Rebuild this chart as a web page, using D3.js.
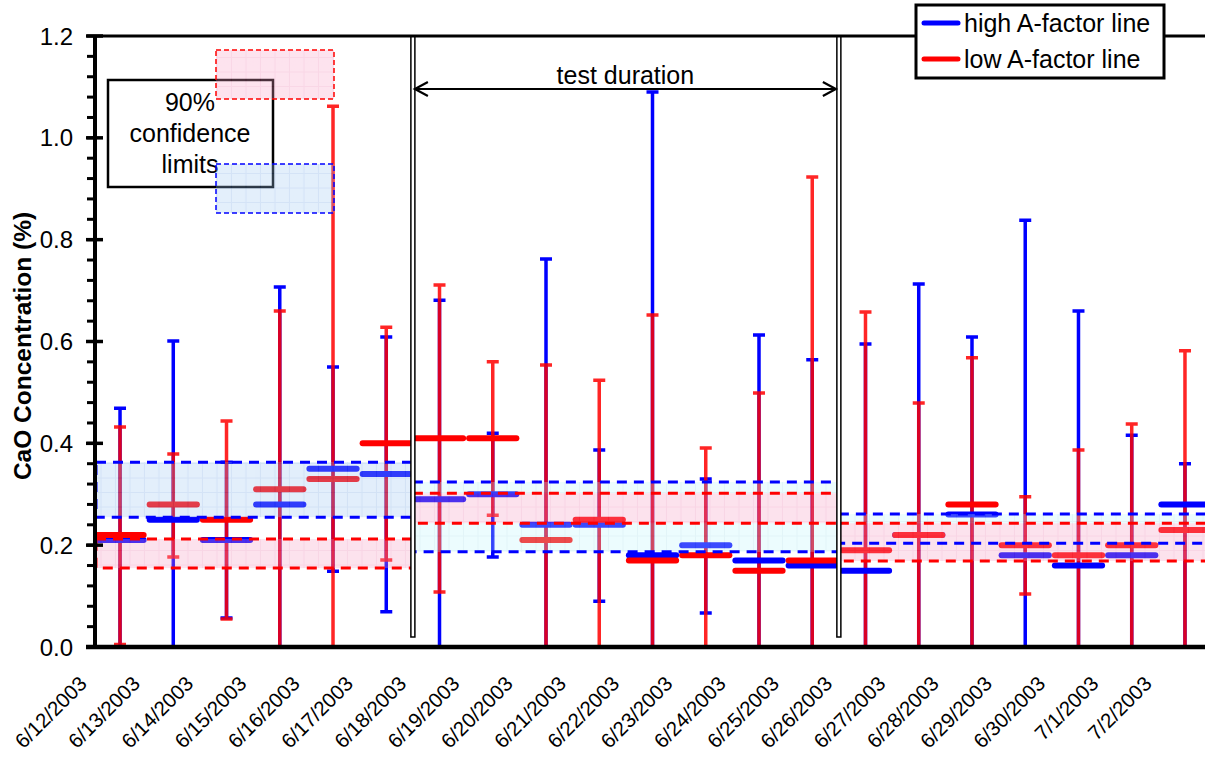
<!DOCTYPE html>
<html>
<head>
<meta charset="utf-8">
<script src="https://cdn.jsdelivr.net/npm/d3@7"></script>
<style>
  body { margin: 0; background: #fff; }
  text { font-family: "Liberation Sans", Arial, sans-serif; fill: #000; }
</style>
</head>
<body>
<svg id="chart" width="1205" height="757"></svg>
<script>
// ---- data ----
var dates = ["6/12/2003","6/13/2003","6/14/2003","6/15/2003","6/16/2003","6/17/2003","6/18/2003",
             "6/19/2003","6/20/2003","6/21/2003","6/22/2003","6/23/2003","6/24/2003","6/25/2003",
             "6/26/2003","6/27/2003","6/28/2003","6/29/2003","6/30/2003","7/1/2003","7/2/2003"];

// high A-factor line: mean and error range
var highMean = [0.21,0.25,0.21,0.28,0.35,0.34,0.29,0.30,0.24,0.24,0.18,0.20,0.17,0.16,0.15,0.22,0.26,0.18,0.16,0.18,0.28];
var highLow  = [0,0,0.057,0,0.149,0.069,0,0.177,0,0.09,0,0.067,0,0,0,0,0,0,0,0,0];
var highHigh = [0.469,0.601,0.363,0.707,0.55,0.609,0.681,0.42,0.762,0.387,1.09,0.33,0.613,0.564,0.595,0.713,0.609,0.838,0.66,0.416,0.36];

// low A-factor line: mean and error range
var lowMean = [0.22,0.28,0.25,0.31,0.33,0.40,0.41,0.41,0.21,0.25,0.17,0.18,0.15,0.17,0.19,0.22,0.28,0.20,0.18,0.20,0.23];
var lowLow  = [0.005,0.177,0.055,0,0,0.171,0.108,0.259,0,0,0,0,0,0,0,0,0,0.104,0,0,0];
var lowHigh = [0.432,0.379,0.444,0.66,1.062,0.628,0.711,0.56,0.554,0.524,0.652,0.391,0.499,0.923,0.658,0.479,0.568,0.295,0.387,0.438,0.582];

// periods (before / during / after test) and their 90% confidence limits
var periodStart = [0, 6, 14];
var periodEnd   = [5, 13, 20];
var highLimits  = [[0.255,0.363],[0.187,0.324],[0.204,0.261]];
var lowLimits   = [[0.155,0.212],[0.243,0.302],[0.169,0.243]];

var yTicks = [0, 0.2, 0.4, 0.6, 0.8, 1.0, 1.2];

var BLUE = "#0000ff", RED = "#ff0000";

var svg = d3.select("#chart");
var width = 1205;

var x = d3.scaleBand().domain(dates).range([93.4, 1211.6]).padding(0);
var y = d3.scaleLinear().domain([0, 1.2]).range([647, 36]);
var bw = x.bandwidth();
function cx(i) { return x(dates[i]) + bw / 2; }

// grid-textured fills for the confidence bands
var defs = svg.append("defs");
function gridPattern(id, fill, line) {
  var p = defs.append("pattern").attr("id", id)
    .attr("width", 14.5).attr("height", 14.5).attr("patternUnits", "userSpaceOnUse");
  p.append("rect").attr("width", 14.5).attr("height", 14.5).attr("fill", fill);
  p.append("path").attr("d", "M14 0V14.5M0 14H14.5").attr("stroke", line).attr("stroke-width", 1);
}
gridPattern("gBlue", "rgb(160,200,242)", "rgb(110,160,225)");
gridPattern("gCyan", "rgb(195,248,252)", "rgb(160,220,235)");
gridPattern("gPink", "rgb(248,160,198)", "rgb(235,120,170)");

// error bars
function errorBar(g, lo, hi, color, sw) {
  g.selectAll("path").data(dates).join("path")
    .attr("d", function(d, i) {
      var xc = cx(i), y0 = y(lo[i]), y1 = y(hi[i]);
      return "M" + xc + "," + y0 + "V" + y1 +
             "M" + (xc - 6) + "," + y1 + "H" + (xc + 6) +
             "M" + (xc - 6) + "," + y0 + "H" + (xc + 6);
    })
    .attr("fill", "none").attr("stroke", color).attr("stroke-width", sw);
}
var gErr = svg.append("g");
errorBar(gErr.append("g"), highLow, highHigh, BLUE, 3.5);
errorBar(gErr.append("g").attr("opacity", 0.85), lowLow, lowHigh, RED, 3.5);

// mean bars
function meanBars(vals, color) {
  svg.append("g").selectAll("line").data(vals).join("line")
    .attr("x1", function(d, i) { return cx(i) - bw / 2 + 3; })
    .attr("x2", function(d, i) { return cx(i) + bw / 2 - 3; })
    .attr("y1", function(d) { return y(d); })
    .attr("y2", function(d) { return y(d); })
    .attr("stroke", color).attr("stroke-width", 6).attr("stroke-linecap", "round");
}
meanBars(highMean, BLUE);
meanBars(lowMean, RED);

// confidence bands (drawn over the marks, semi transparent)
function bandX0(k) { return Math.max(96, x(dates[periodStart[k]])); }
function bandX1(k) { return Math.min(width + 5, x(dates[periodEnd[k]]) + bw); }

var gFill = svg.append("g").attr("opacity", 0.3);
periodStart.forEach(function(s, k) {
  gFill.append("rect")
    .attr("x", bandX0(k)).attr("width", bandX1(k) - bandX0(k))
    .attr("y", y(highLimits[k][1])).attr("height", y(highLimits[k][0]) - y(highLimits[k][1]))
    .attr("fill", k === 0 ? "url(#gBlue)" : "url(#gCyan)");
  gFill.append("rect")
    .attr("x", bandX0(k)).attr("width", bandX1(k) - bandX0(k))
    .attr("y", y(lowLimits[k][1])).attr("height", y(lowLimits[k][0]) - y(lowLimits[k][1]))
    .attr("fill", "url(#gPink)");
});
var gDash = svg.append("g").attr("fill", "none").attr("stroke-width", 3).attr("stroke-dasharray", "10,7");
periodStart.forEach(function(s, k) {
  gDash.append("rect")
    .attr("x", bandX0(k)).attr("width", bandX1(k) - bandX0(k))
    .attr("y", y(highLimits[k][1])).attr("height", y(highLimits[k][0]) - y(highLimits[k][1]))
    .attr("stroke", BLUE);
  gDash.append("rect")
    .attr("x", bandX0(k)).attr("width", bandX1(k) - bandX0(k))
    .attr("y", y(lowLimits[k][1])).attr("height", y(lowLimits[k][0]) - y(lowLimits[k][1]))
    .attr("stroke", RED);
});

// separators of the test period (double lines)
[periodStart[1], periodStart[2]].forEach(function(i) {
  var xs = x(dates[i]);
  svg.append("rect").attr("x", xs - 2).attr("y", 36).attr("width", 4).attr("height", 601)
    .attr("fill", "#fff").attr("stroke", "#000").attr("stroke-width", 1.5);
});

// test duration arrow
var ax0 = x(dates[periodStart[1]]) + 2, ax1 = x(dates[periodStart[2]]) - 3, ay = 89;
svg.append("path")
  .attr("d", "M" + ax0 + "," + ay + "H" + ax1 +
        "M" + (ax0 + 13) + "," + (ay - 7) + "L" + ax0 + "," + ay + "L" + (ax0 + 13) + "," + (ay + 7) +
        "M" + (ax1 - 13) + "," + (ay - 7) + "L" + ax1 + "," + ay + "L" + (ax1 - 13) + "," + (ay + 7))
  .attr("fill", "none").attr("stroke", "#000").attr("stroke-width", 2.2);
svg.append("text").attr("x", (ax0 + ax1) / 2).attr("y", 84)
  .attr("text-anchor", "middle").style("font-size", "25px").text("test duration");

// "90% confidence limits" key
svg.append("rect").attr("x", 108).attr("y", 80).attr("width", 165).attr("height", 107)
  .attr("fill", "none").attr("stroke", "#000").attr("stroke-width", 2.5);
["90%", "confidence", "limits"].forEach(function(t, i) {
  svg.append("text").attr("x", 190).attr("y", 111 + i * 31)
    .attr("text-anchor", "middle").style("font-size", "25px").text(t);
});
svg.append("rect").attr("x", 216).attr("y", 50).attr("width", 118).attr("height", 49)
  .attr("fill", "url(#gPink)").attr("opacity", 0.3);
svg.append("rect").attr("x", 216).attr("y", 50).attr("width", 118).attr("height", 49)
  .attr("fill", "none").attr("stroke", RED).attr("stroke-width", 1.5).attr("stroke-dasharray", "5,3");
svg.append("rect").attr("x", 216).attr("y", 164).attr("width", 118).attr("height", 49)
  .attr("fill", "url(#gBlue)").attr("opacity", 0.3);
svg.append("rect").attr("x", 216).attr("y", 164).attr("width", 118).attr("height", 49)
  .attr("fill", "none").attr("stroke", BLUE).attr("stroke-width", 1.5).attr("stroke-dasharray", "5,3");

// frame: top line
svg.append("line").attr("x1", 95).attr("x2", width).attr("y1", 36).attr("y2", 36)
  .attr("stroke", "#000").attr("stroke-width", 3);

// y axis
var gy = svg.append("g");
gy.append("line").attr("x1", 95).attr("x2", 95).attr("y1", 35).attr("y2", 649)
  .attr("stroke", "#000").attr("stroke-width", 4);
gy.selectAll("line.minor").data(d3.range(0, 1.2001, 0.04)).join("line").attr("class", "minor")
  .attr("x1", 87).attr("x2", 95).attr("y1", function(d) { return y(d); }).attr("y2", function(d) { return y(d); })
  .attr("stroke", "#000").attr("stroke-width", 3);
gy.selectAll("line.major").data(yTicks).join("line").attr("class", "major")
  .attr("x1", 86).attr("x2", 103).attr("y1", function(d) { return y(d); }).attr("y2", function(d) { return y(d); })
  .attr("stroke", "#000").attr("stroke-width", 3.5);
gy.selectAll("text").data(yTicks).join("text")
  .attr("x", 73).attr("y", function(d) { return y(d); }).attr("dy", "0.36em")
  .attr("text-anchor", "end").style("font-size", "24px")
  .text(d3.format(".1f"));

svg.append("text")
  .attr("transform", "translate(31,346) rotate(-90)")
  .attr("text-anchor", "middle").style("font-size", "24.5px").style("font-weight", "bold")
  .text("CaO Concentration (%)");

// x axis
svg.append("line").attr("x1", 86).attr("x2", width).attr("y1", 647).attr("y2", 647)
  .attr("stroke", "#000").attr("stroke-width", 4.5);
svg.append("g").selectAll("text").data(dates).join("text")
  .attr("transform", function(d, i) { return "translate(" + (cx(i) - 32) + ",685) rotate(-45)"; })
  .attr("text-anchor", "end").style("font-size", "20.5px")
  .text(function(d) { return d; });

// legend
var lg = svg.append("g");
lg.append("rect").attr("x", 916).attr("y", 5).attr("width", 248).attr("height", 73)
  .attr("fill", "#fff").attr("stroke", "#000").attr("stroke-width", 3);
[["high A-factor line", BLUE], ["low A-factor line", RED]].forEach(function(e, i) {
  var ly = 23 + i * 36;
  lg.append("line").attr("x1", 924).attr("x2", 958).attr("y1", ly).attr("y2", ly)
    .attr("stroke", e[1]).attr("stroke-width", 5).attr("stroke-linecap", "round");
  lg.append("text").attr("x", 964).attr("y", ly + 9).style("font-size", "25px").text(e[0]);
});
</script>
</body>
</html>
